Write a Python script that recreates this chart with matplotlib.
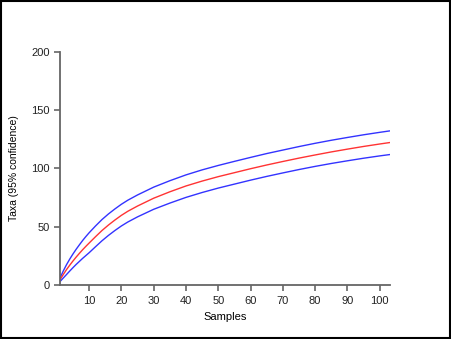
import matplotlib.pyplot as plt
from matplotlib.patches import Rectangle

plt.rcParams['font.family'] = ['Liberation Sans', 'DejaVu Sans']

samples = [1, 2, 3, 4, 5, 6, 7, 8, 9, 10, 12, 14, 16, 18, 20, 22, 25, 30, 35, 40,
           45, 50, 55, 60, 65, 70, 75, 80, 85, 90, 95, 100, 103]
taxa_mean = [4.5, 9, 13.2, 17, 20.6, 24, 27.2, 30.3, 33.2, 36, 41.5, 46.8, 51.5, 55.8, 59.8, 63.3, 67.8,
             74.5, 80, 85, 89.2, 93, 96.4, 99.8, 103, 106, 108.9, 111.6, 114.2, 116.6, 118.9, 121, 122.2]
taxa_upper = [6, 12, 17.4, 22.2, 26.6, 30.7, 34.5, 38.2, 41.6, 44.8, 50.7, 56.2, 61, 65.3, 69.3, 72.8, 77.3,
              84, 89.5, 94.5, 98.8, 102.6, 106.1, 109.5, 112.8, 115.8, 118.8, 121.6, 124.2, 126.6, 128.9, 131, 132.2]
taxa_lower = [3, 6, 9, 12, 14.9, 17.7, 20.3, 22.9, 25.3, 27.7, 32.9, 38, 42.6, 46.8, 50.7, 54.1, 58.5,
              65, 70.3, 75.2, 79.4, 83.2, 86.6, 90, 93.2, 96.2, 99.1, 101.8, 104.3, 106.6, 108.8, 110.8, 111.9]

xticks = [10, 20, 30, 40, 50, 60, 70, 80, 90, 100]
yticks = [0, 50, 100, 150, 200]

fig = plt.figure(figsize=(4.51, 3.39), dpi=100)
ax = fig.add_axes([0.133, 0.159, 0.732, 0.688])

ax.plot(samples, taxa_upper, color='#3333ff', lw=1.0)
ax.plot(samples, taxa_mean, color='#ff3333', lw=1.0)
ax.plot(samples, taxa_lower, color='#3333ff', lw=1.0)

ax.set_xlim(1, 103.2)
ax.set_ylim(0, 200)
ax.set_xticks(xticks)
ax.set_yticks(yticks)
ax.spines['top'].set_visible(False)
ax.spines['right'].set_visible(False)
for s in ['left', 'bottom']:
    ax.spines[s].set_color('#666666')
    ax.spines[s].set_linewidth(1.3)
ax.tick_params(colors='#666666', width=1.2, length=4, labelsize=8, labelcolor='#222222')
ax.set_xlabel('Samples', fontsize=8, labelpad=5)
ax.set_ylabel('Taxa (95% confidence)', fontsize=7.5, labelpad=9)

fig.patches.append(Rectangle((0.002, 0.003), 0.995, 0.994, transform=fig.transFigure,
                             fill=False, edgecolor='black', lw=1.5))

fig.savefig('out.png', dpi=100)
